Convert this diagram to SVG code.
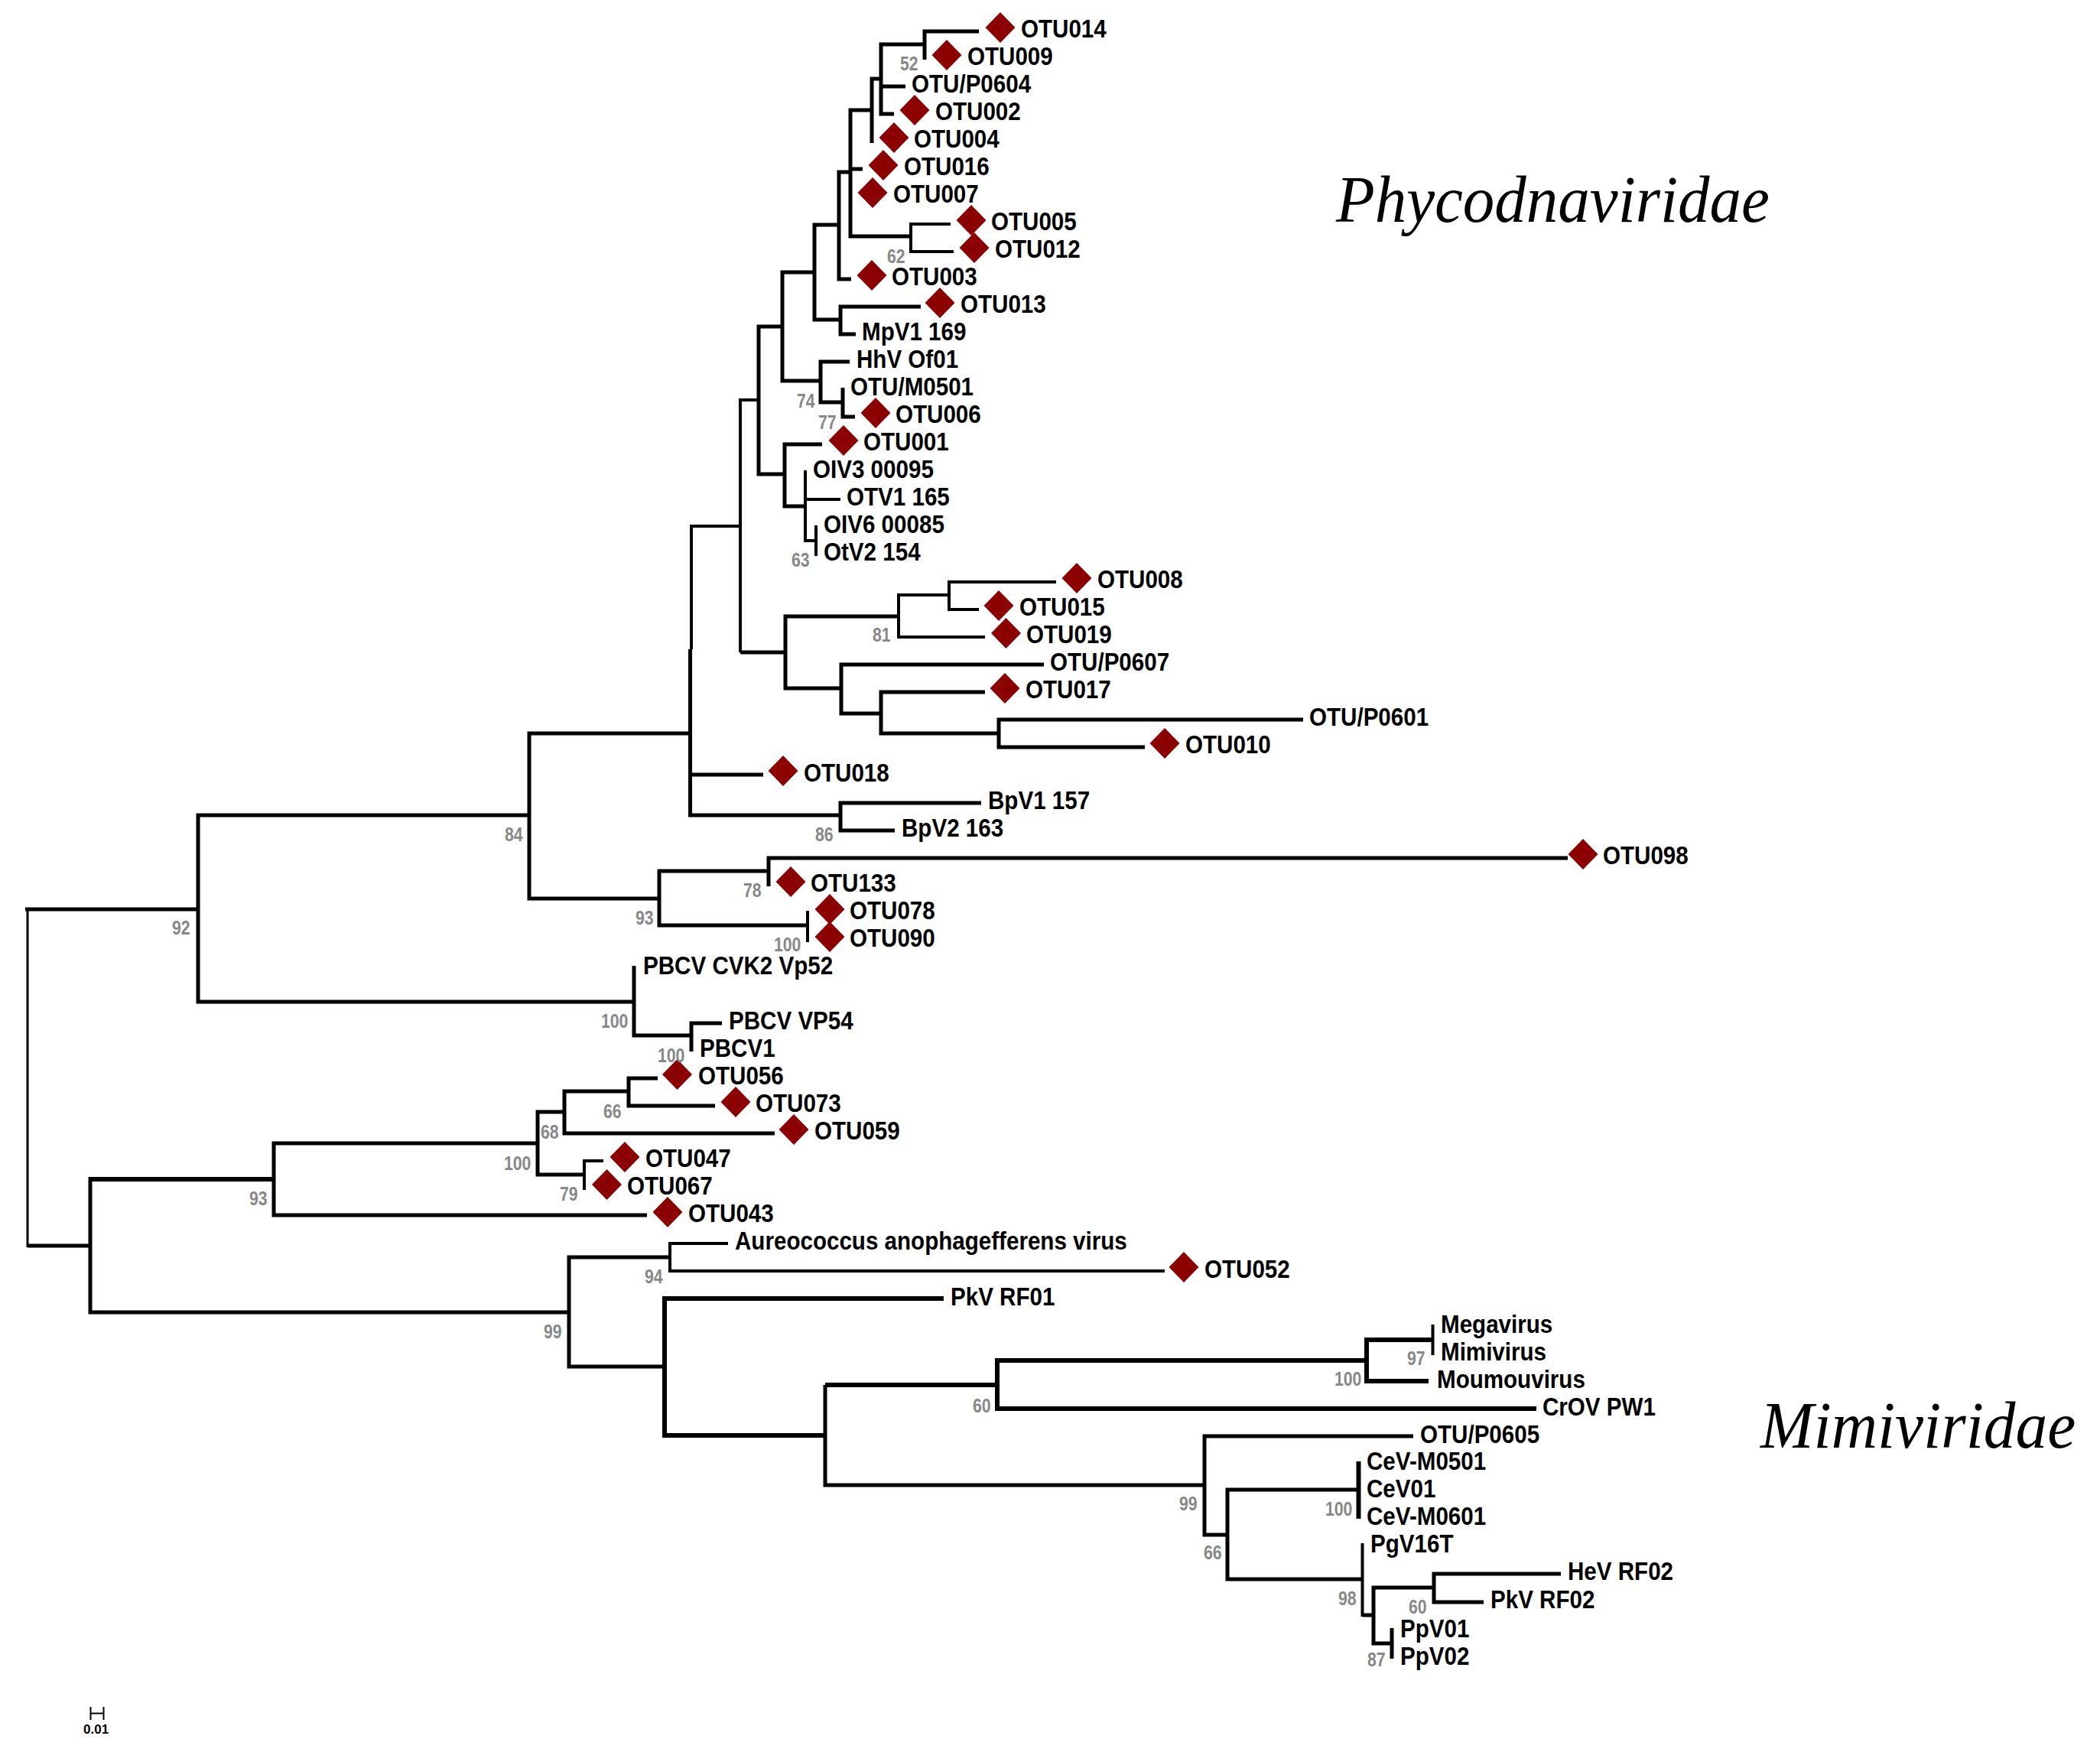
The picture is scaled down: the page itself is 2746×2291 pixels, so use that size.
<svg xmlns="http://www.w3.org/2000/svg" width="2746" height="2291" viewBox="0 0 2746 2291">
<style>
text{font-family:"Liberation Sans",Arial,sans-serif}
.l{font-size:34px;font-weight:700;fill:#000}
.b{font-size:25px;font-weight:700;fill:#888}
.f{font-family:"Liberation Serif","Times New Roman",serif;font-size:86px;font-style:italic;fill:#000}
.s{font-size:17px;font-weight:700;fill:#000}
path{fill:none;stroke:#000;stroke-width:5;stroke-linejoin:miter}
.n{stroke-width:4}.k{stroke-width:6}.t{stroke-width:3}.h{stroke-width:2}
.d{fill:#8b0000}
</style>
<defs><polygon id="d" class="d" points="0,-20 19.5,0 0,20 -19.5,0"/></defs>
<rect width="2746" height="2291" fill="#fff"/>
<g id="connectors">
<path class="t" d="M36,1187V1631"/><path d="M33,1189H259M36,1629H118"/>
<path class="k" d="M358,1542H118"/><path d="M118,1539V1716H744"/>
<path d="M703,1495H358V1589H846"/>
<path d="M738,1454H703V1536H764"/>
<path d="M822,1427H738V1482H1013"/>
<path d="M860,1410H822V1446H935"/>
<path class="n" d="M789,1518H764V1556"/>
<path d="M876,1644H744V1787H869"/>
<path class="n" d="M952,1626H876V1662H1523"/>
<path class="k" d="M1234,1698H869V1877H1079"/>
<path class="k" d="M1304,1811H1079"/><path d="M1079,1811V1942H1575"/>
<path class="k" d="M1787,1779H1304V1842H2009"/>
<path class="k" d="M1873.5,1752H1787V1806H1868"/>
<path class="n" d="M1873.5,1732V1772"/>
<path d="M1848,1878H1575V2007H1605"/>
<path d="M1776.5,1948H1605V2065H1781.5"/>
<path class="k" d="M1776.5,1911V1986"/>
<path class="n" d="M1781.5,2018V2114"/><path d="M1781.5,2112H1796"/>
<path d="M1875,2076H1796V2149H1820"/>
<path d="M2041,2058H1875V2095H1940"/>
<path d="M1820,2129V2169"/>
<path d="M692,1066H259V1310H829"/>
<path d="M902,959H692V1175H862"/>
<path d="M1005,1139H862V1210H1056"/>
<path d="M2050,1122H1005V1159"/>
<path class="n" d="M1056,1191V1232"/>
<path d="M829,1263V1354H904"/>
<path d="M944,1338H904V1375"/>
<path class="n" d="M904,686V849"/><path d="M902.5,849V1066H1099"/>
<path d="M902,1013H998"/>
<path d="M1283,1050H1099V1086H1170"/>
<path class="n" d="M904,688H968"/>
<path class="n" d="M992,523H968V853"/><path d="M968,853H1027"/>
<path d="M1175,806H1027V900H1100"/>
<path class="n" d="M1241,778H1175V833H1288"/>
<path class="n" d="M1381,761H1241V797H1280"/>
<path d="M1365,869H1100V933H1152"/>
<path d="M1288,905H1152V959H1306"/>
<path d="M1704,941H1306V977H1497"/>
<path d="M1023,427H992V620H1026"/>
<path d="M1075,581H1026V662H1053"/>
<path class="n" d="M1053,615V707H1067"/><path class="n" d="M1053,653H1099"/>
<path class="n" d="M1067,687V727"/>
<path d="M1065,356H1023V498H1073"/>
<path d="M1111,473H1073V526H1102"/>
<path d="M1102,507V545H1118"/>
<path d="M1097,294H1065V418H1099"/>
<path d="M1204,401H1099V437H1119"/>
<path d="M1112,225H1097V365H1113"/>
<path d="M1140,144H1112V309H1191"/><path d="M1112,221H1128"/>
<path class="n" d="M1243,293H1191V329H1247"/>
<path d="M1152,103H1140V187"/>
<path d="M1209,58H1152V149H1169"/><path d="M1152,113H1184"/>
<path d="M1280,41H1209V78"/>
<path class="h" d="M118.5,2232V2249M118.5,2240.5H135.5M135.5,2232V2249"/>
</g>
<g id="OTU014"><use href="#d" x="1308" y="36"/><text class="l" transform="matrix(.87 0 0 1 1335 49)">OTU014</text></g>
<g id="OTU009"><use href="#d" x="1238" y="72"/><text class="l" transform="matrix(.87 0 0 1 1265 85)">OTU009</text></g>
<g id="OTU-P0604"><text class="l" transform="matrix(.87 0 0 1 1192 121)">OTU/P0604</text></g>
<g id="OTU002"><use href="#d" x="1196" y="144"/><text class="l" transform="matrix(.87 0 0 1 1223 157)">OTU002</text></g>
<g id="OTU004"><use href="#d" x="1169" y="180"/><text class="l" transform="matrix(.87 0 0 1 1195 193)">OTU004</text></g>
<g id="OTU016"><use href="#d" x="1155" y="216"/><text class="l" transform="matrix(.87 0 0 1 1182 229)">OTU016</text></g>
<g id="OTU007"><use href="#d" x="1141" y="252"/><text class="l" transform="matrix(.87 0 0 1 1168 265)">OTU007</text></g>
<g id="OTU005"><use href="#d" x="1270" y="288"/><text class="l" transform="matrix(.87 0 0 1 1296 301)">OTU005</text></g>
<g id="OTU012"><use href="#d" x="1274" y="324"/><text class="l" transform="matrix(.87 0 0 1 1301 337)">OTU012</text></g>
<g id="OTU003"><use href="#d" x="1140" y="360"/><text class="l" transform="matrix(.87 0 0 1 1166 373)">OTU003</text></g>
<g id="OTU013"><use href="#d" x="1229" y="396"/><text class="l" transform="matrix(.87 0 0 1 1256 409)">OTU013</text></g>
<g id="MpV1"><text class="l" transform="matrix(.87 0 0 1 1127 445)">MpV1 169</text></g>
<g id="HhV"><text class="l" transform="matrix(.87 0 0 1 1120 481)">HhV Of01</text></g>
<g id="OTU-M0501"><text class="l" transform="matrix(.87 0 0 1 1112 517)">OTU/M0501</text></g>
<g id="OTU006"><use href="#d" x="1145" y="540"/><text class="l" transform="matrix(.87 0 0 1 1171 553)">OTU006</text></g>
<g id="OTU001"><use href="#d" x="1103" y="576"/><text class="l" transform="matrix(.87 0 0 1 1129 589)">OTU001</text></g>
<g id="OIV3"><text class="l" transform="matrix(.87 0 0 1 1063 625)">OIV3 00095</text></g>
<g id="OTV1"><text class="l" transform="matrix(.87 0 0 1 1107 661)">OTV1 165</text></g>
<g id="OIV6"><text class="l" transform="matrix(.87 0 0 1 1077 697)">OIV6 00085</text></g>
<g id="OtV2"><text class="l" transform="matrix(.87 0 0 1 1077 733)">OtV2 154</text></g>
<g id="OTU008"><use href="#d" x="1408" y="756"/><text class="l" transform="matrix(.87 0 0 1 1435 769)">OTU008</text></g>
<g id="OTU015"><use href="#d" x="1306" y="792"/><text class="l" transform="matrix(.87 0 0 1 1333 805)">OTU015</text></g>
<g id="OTU019"><use href="#d" x="1315.5" y="828"/><text class="l" transform="matrix(.87 0 0 1 1342 841)">OTU019</text></g>
<g id="OTU-P0607"><text class="l" transform="matrix(.87 0 0 1 1373 877)">OTU/P0607</text></g>
<g id="OTU017"><use href="#d" x="1314" y="900"/><text class="l" transform="matrix(.87 0 0 1 1341 913)">OTU017</text></g>
<g id="OTU-P0601"><text class="l" transform="matrix(.87 0 0 1 1712 949)">OTU/P0601</text></g>
<g id="OTU010"><use href="#d" x="1523" y="972"/><text class="l" transform="matrix(.87 0 0 1 1550 985)">OTU010</text></g>
<g id="OTU018"><use href="#d" x="1024" y="1008"/><text class="l" transform="matrix(.87 0 0 1 1051 1022)">OTU018</text></g>
<g id="BpV1"><text class="l" transform="matrix(.87 0 0 1 1292 1058)">BpV1 157</text></g>
<g id="BpV2"><text class="l" transform="matrix(.87 0 0 1 1179 1094)">BpV2 163</text></g>
<g id="OTU098"><use href="#d" x="2070" y="1117"/><text class="l" transform="matrix(.87 0 0 1 2096 1130)">OTU098</text></g>
<g id="OTU133"><use href="#d" x="1034" y="1153"/><text class="l" transform="matrix(.87 0 0 1 1060 1166)">OTU133</text></g>
<g id="OTU078"><use href="#d" x="1085" y="1189"/><text class="l" transform="matrix(.87 0 0 1 1111 1202)">OTU078</text></g>
<g id="OTU090"><use href="#d" x="1085" y="1225"/><text class="l" transform="matrix(.87 0 0 1 1111 1238)">OTU090</text></g>
<g id="PBCV-CVK2"><text class="l" transform="matrix(.87 0 0 1 841 1274)">PBCV CVK2 Vp52</text></g>
<g id="PBCV-VP54"><text class="l" transform="matrix(.87 0 0 1 953 1346)">PBCV VP54</text></g>
<g id="PBCV1"><text class="l" transform="matrix(.87 0 0 1 915 1382)">PBCV1</text></g>
<g id="OTU056"><use href="#d" x="885.5" y="1405"/><text class="l" transform="matrix(.87 0 0 1 913 1418)">OTU056</text></g>
<g id="OTU073"><use href="#d" x="962" y="1441"/><text class="l" transform="matrix(.87 0 0 1 988 1454)">OTU073</text></g>
<g id="OTU059"><use href="#d" x="1038" y="1477"/><text class="l" transform="matrix(.87 0 0 1 1065 1490)">OTU059</text></g>
<g id="OTU047"><use href="#d" x="817" y="1513"/><text class="l" transform="matrix(.87 0 0 1 844 1526)">OTU047</text></g>
<g id="OTU067"><use href="#d" x="793.5" y="1549"/><text class="l" transform="matrix(.87 0 0 1 820 1562)">OTU067</text></g>
<g id="OTU043"><use href="#d" x="873" y="1585"/><text class="l" transform="matrix(.87 0 0 1 900 1598)">OTU043</text></g>
<g id="Aureococcus"><text class="l" transform="matrix(.87 0 0 1 961 1634)">Aureococcus anophagefferens virus</text></g>
<g id="OTU052"><use href="#d" x="1548" y="1657"/><text class="l" transform="matrix(.87 0 0 1 1575 1671)">OTU052</text></g>
<g id="PkV-RF01"><text class="l" transform="matrix(.87 0 0 1 1243 1707)">PkV RF01</text></g>
<g id="Megavirus"><text class="l" transform="matrix(.87 0 0 1 1884 1743)">Megavirus</text></g>
<g id="Mimivirus"><text class="l" transform="matrix(.87 0 0 1 1884 1779)">Mimivirus</text></g>
<g id="Moumouvirus"><text class="l" transform="matrix(.87 0 0 1 1879 1815)">Moumouvirus</text></g>
<g id="CrOV"><text class="l" transform="matrix(.87 0 0 1 2017 1851)">CrOV PW1</text></g>
<g id="OTU-P0605"><text class="l" transform="matrix(.87 0 0 1 1857 1887)">OTU/P0605</text></g>
<g id="CeV-M0501"><text class="l" transform="matrix(.87 0 0 1 1787 1922)">CeV-M0501</text></g>
<g id="CeV01"><text class="l" transform="matrix(.87 0 0 1 1787 1958)">CeV01</text></g>
<g id="CeV-M0601"><text class="l" transform="matrix(.87 0 0 1 1787 1994)">CeV-M0601</text></g>
<g id="PgV16T"><text class="l" transform="matrix(.87 0 0 1 1792 2030)">PgV16T</text></g>
<g id="HeV"><text class="l" transform="matrix(.87 0 0 1 2050 2066)">HeV RF02</text></g>
<g id="PkV-RF02"><text class="l" transform="matrix(.87 0 0 1 1949 2103)">PkV RF02</text></g>
<g id="PpV01"><text class="l" transform="matrix(.87 0 0 1 1831 2141)">PpV01</text></g>
<g id="PpV02"><text class="l" transform="matrix(.87 0 0 1 1831 2177)">PpV02</text></g>
<g id="support">
<text class="b" transform="matrix(.85 0 0 1 1177 92)">52</text>
<text class="b" transform="matrix(.85 0 0 1 1160 344)">62</text>
<text class="b" transform="matrix(.85 0 0 1 1042 533)">74</text>
<text class="b" transform="matrix(.85 0 0 1 1070 561)">77</text>
<text class="b" transform="matrix(.85 0 0 1 1035 741)">63</text>
<text class="b" transform="matrix(.85 0 0 1 1141 839)">81</text>
<text class="b" transform="matrix(.85 0 0 1 1066 1100)">86</text>
<text class="b" transform="matrix(.85 0 0 1 972 1173)">78</text>
<text class="b" transform="matrix(.85 0 0 1 1012 1244)">100</text>
<text class="b" transform="matrix(.85 0 0 1 660 1100)">84</text>
<text class="b" transform="matrix(.85 0 0 1 831 1209)">93</text>
<text class="b" transform="matrix(.85 0 0 1 225 1222)">92</text>
<text class="b" transform="matrix(.85 0 0 1 786 1344)">100</text>
<text class="b" transform="matrix(.85 0 0 1 860 1389)">100</text>
<text class="b" transform="matrix(.85 0 0 1 789 1462)">66</text>
<text class="b" transform="matrix(.85 0 0 1 707 1489)">68</text>
<text class="b" transform="matrix(.85 0 0 1 659 1530)">100</text>
<text class="b" transform="matrix(.85 0 0 1 732 1570)">79</text>
<text class="b" transform="matrix(.85 0 0 1 326 1576)">93</text>
<text class="b" transform="matrix(.85 0 0 1 843 1678)">94</text>
<text class="b" transform="matrix(.85 0 0 1 711 1750)">99</text>
<text class="b" transform="matrix(.85 0 0 1 1840 1785)">97</text>
<text class="b" transform="matrix(.85 0 0 1 1745 1812)">100</text>
<text class="b" transform="matrix(.85 0 0 1 1272 1847)">60</text>
<text class="b" transform="matrix(.85 0 0 1 1542 1975)">99</text>
<text class="b" transform="matrix(.85 0 0 1 1733 1982)">100</text>
<text class="b" transform="matrix(.85 0 0 1 1574 2039)">66</text>
<text class="b" transform="matrix(.85 0 0 1 1750 2099)">98</text>
<text class="b" transform="matrix(.85 0 0 1 1842 2110)">60</text>
<text class="b" transform="matrix(.85 0 0 1 1788 2179)">87</text>
</g>
<text class="f" transform="matrix(.965 0 0 1 1747 290)">Phycodnaviridae</text>
<text class="f" transform="matrix(.97 0 0 1 2302 1893)">Mimiviridae</text>
<text class="s" x="109" y="2267">0.01</text>
</svg>
